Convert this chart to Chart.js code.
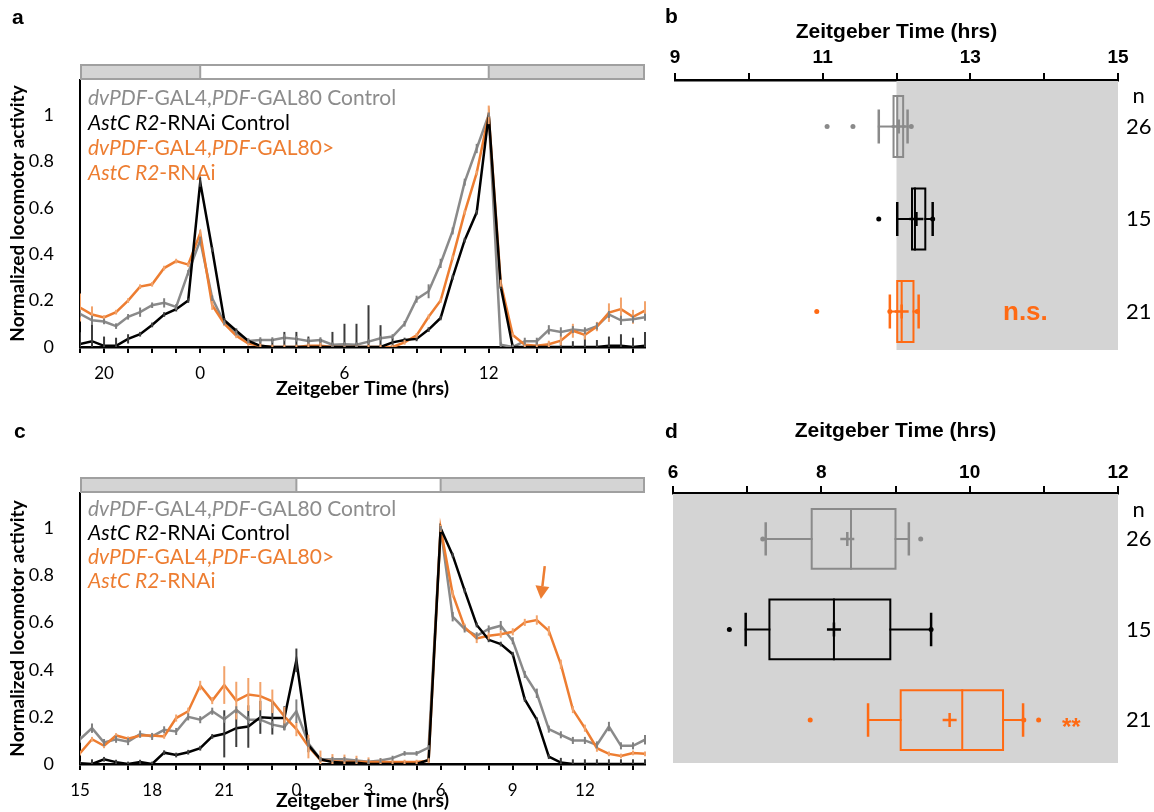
<!DOCTYPE html>
<html><head><meta charset="utf-8">
<script src="https://cdn.jsdelivr.net/npm/chart.js@4/dist/chart.umd.min.js"></script>
<style>
html,body{margin:0;padding:0;background:#fff;width:1154px;height:812px;overflow:hidden;}
canvas{position:absolute;}
.plet{position:absolute;font-family:'Liberation Sans',Arial,sans-serif;font-weight:bold;font-size:21px;color:#000;line-height:24px;}
.leg{position:absolute;left:88px;font-family:Lato,sans-serif;font-size:21px;white-space:nowrap;}
.g{color:#8c8c8c}.k{color:#000}.o{color:#ED7D31}
.sig{position:absolute;font-family:'Liberation Sans',Arial,sans-serif;font-weight:bold;color:#FF6A13;white-space:nowrap;}
</style></head><body>
<canvas id="ca" width="660" height="400" style="left:0;top:0"></canvas>
<canvas id="cb" width="494" height="380" style="left:660px;top:0"></canvas>
<canvas id="cc" width="660" height="400" style="left:0;top:412px"></canvas>
<canvas id="cd" width="494" height="380" style="left:660px;top:410px"></canvas>

<div class="plet" style="left:12px;top:5px">a</div>
<div class="plet" style="left:665px;top:4px">b</div>
<div class="plet" style="left:14px;top:419px">c</div>
<div class="plet" style="left:665px;top:419px">d</div>

<div class="leg" style="top:84px;line-height:25px">
<div class="g"><i>dvPDF</i>-GAL4,<i>PDF</i>-GAL80 Control</div>
<div class="k"><i>AstC R2</i>-RNAi Control</div>
<div class="o"><i>dvPDF</i>-GAL4,<i>PDF</i>-GAL80&gt;</div>
<div class="o"><i>AstC R2</i>-RNAi</div>
</div>
<div class="leg" style="top:496px;line-height:24px">
<div class="g"><i>dvPDF</i>-GAL4,<i>PDF</i>-GAL80 Control</div>
<div class="k"><i>AstC R2</i>-RNAi Control</div>
<div class="o"><i>dvPDF</i>-GAL4,<i>PDF</i>-GAL80&gt;</div>
<div class="o"><i>AstC R2</i>-RNAi</div>
</div>
<div class="sig" style="left:1003px;top:296px;font-size:26px">n.s.</div>
<div class="sig" style="left:1062px;top:713px;font-size:24px">**</div>

<script>
// ---------- Panel a data (ZT, 30-min bins) ----------
const aTime = [-5,-4.5,-4,-3.5,-3,-2.5,-2,-1.5,-1,-0.5,0,0.5,1,1.5,2,2.5,3,3.5,4,4.5,5,5.5,6,6.5,7,7.5,8,8.5,9,9.5,10,10.5,11,11.5,12,12.5,13,13.5,14,14.5,15,15.5,16,16.5,17,17.5,18,18.5];
const aGray = [0.143,0.115,0.11,0.09,0.13,0.15,0.18,0.19,0.173,0.32,0.46,0.21,0.105,0.06,0.026,0.03,0.03,0.04,0.035,0.026,0.03,0.01,0.012,0.01,0.023,0.038,0.045,0.1,0.206,0.24,0.36,0.5,0.71,0.855,1.0,0.01,0.0,0.025,0.025,0.074,0.065,0.075,0.07,0.09,0.14,0.115,0.12,0.128];
const aGrayErr = [0.015,0.02,0.012,0.012,0.012,0.02,0.012,0.02,0.012,0.012,0.015,0.012,0.01,0.01,0.01,0.012,0.012,0.015,0.012,0.012,0.012,0.01,0.01,0.01,0.01,0.01,0.01,0.012,0.015,0.03,0.02,0.015,0.015,0.02,0.01,0.01,0.01,0.015,0.015,0.02,0.02,0.015,0.015,0.015,0.015,0.02,0.015,0.015];
const aOrange = [0.17,0.14,0.127,0.15,0.2,0.26,0.27,0.34,0.37,0.355,0.49,0.18,0.10,0.048,0.015,0.005,0,0,0,0.005,0.005,0,0,0,0,0,0,0.02,0.05,0.13,0.2,0.385,0.58,0.75,1.0,0.275,0.052,0.01,0.005,0.012,0.027,0.07,0.052,0.088,0.148,0.163,0.13,0.157];
const aOrangeErr = [0.06,0.035,0.01,0.01,0.01,0.01,0.01,0.01,0.01,0.01,0.015,0.02,0.01,0.01,0.01,0.01,0.01,0.01,0.01,0.015,0.015,0.01,0.01,0.01,0.01,0.01,0.01,0.01,0.01,0.01,0.01,0.01,0.01,0.01,0.04,0.015,0.01,0.01,0.01,0.015,0.02,0.03,0.02,0.02,0.04,0.05,0.03,0.04];
const aBlack = [0.013,0.025,0.005,0.005,0.035,0.055,0.095,0.14,0.163,0.2,0.71,0.42,0.115,0.07,0.026,0.005,0,0,0,0,0,0,0,0,0,0,0.02,0.03,0.035,0.075,0.125,0.30,0.46,0.58,1.0,0.26,0,0,0,0,0,0,0,0,0.005,0.005,0,0.005];
const aBlackErr = [0.05,0.085,0.04,0.035,0.02,0.01,0.01,0.01,0.01,0.01,0.02,0.01,0.01,0.01,0.01,0.03,0.035,0.065,0.065,0.045,0.036,0.065,0.1,0.1,0.18,0.094,0.02,0.01,0.01,0.01,0.01,0.01,0.01,0.01,0.01,0.01,0.01,0.01,0.02,0.02,0.03,0.025,0.05,0.03,0.04,0.05,0.04,0.06];
const aTickValues = [-5,-4,-3,-2,-1,0,1,2,3,4,5,6,7,8,9,10,11,12,13,14,15,16,17,18];
const aLabelValues = [-4,0,6,12];
const aLabelTexts = ['20','0','6','12'];
const aLightDark = [{from:-5,to:0,dark:true},{from:0,to:12,dark:false},{from:12,to:18.5,dark:true}];

// ---------- Panel c data ----------
const cTime = [-9,-8.5,-8,-7.5,-7,-6.5,-6,-5.5,-5,-4.5,-4,-3.5,-3,-2.5,-2,-1.5,-1,-0.5,0,0.5,1,1.5,2,2.5,3,3.5,4,4.5,5,5.5,6,6.5,7,7.5,8,8.5,9,9.5,10,10.5,11,11.5,12,12.5,13,13.5,14,14.5];
const cGray = [0.105,0.152,0.091,0.105,0.095,0.127,0.117,0.145,0.138,0.2,0.188,0.224,0.19,0.23,0.188,0.188,0.167,0.157,0.224,0.088,0.02,0.02,0.02,0.015,0.01,0.015,0.025,0.045,0.045,0.07,1.0,0.625,0.573,0.544,0.573,0.587,0.523,0.38,0.3,0.148,0.124,0.1,0.1,0.081,0.159,0.077,0.077,0.103];
const cGrayErr = [0.015,0.02,0.015,0.015,0.015,0.015,0.015,0.015,0.015,0.015,0.015,0.015,0.015,0.015,0.015,0.015,0.015,0.015,0.05,0.015,0.01,0.01,0.01,0.01,0.01,0.01,0.01,0.01,0.01,0.01,0.01,0.02,0.015,0.015,0.015,0.02,0.015,0.015,0.02,0.015,0.015,0.015,0.015,0.015,0.02,0.015,0.015,0.02];
const cOrange = [0.046,0.105,0.077,0.121,0.107,0.121,0.121,0.117,0.195,0.224,0.333,0.269,0.335,0.269,0.295,0.288,0.266,0.202,0.148,0.074,0.017,0.012,0.01,0.01,0.008,0.008,0.008,0.008,0.008,0.014,1.0,0.722,0.58,0.533,0.544,0.551,0.561,0.601,0.611,0.565,0.423,0.231,0.152,0.067,0.043,0.034,0.047,0.043];
const cOrangeErr = [0.01,0.01,0.01,0.01,0.01,0.01,0.01,0.01,0.015,0.015,0.02,0.015,0.08,0.08,0.07,0.06,0.05,0.04,0.03,0.05,0.04,0.03,0.03,0.025,0.02,0.015,0.01,0.01,0.01,0.01,0.015,0.015,0.015,0.02,0.015,0.015,0.015,0.015,0.02,0.02,0.02,0.015,0.015,0.015,0.01,0.01,0.01,0.01];
const cBlack = [0.003,0,0.02,0.008,0,0.008,0,0.048,0.038,0.05,0.067,0.117,0.128,0.152,0.159,0.198,0.195,0.195,0.44,0.08,0.02,0.008,0.005,0.005,0,0,0,0,0,0.017,1.0,0.886,0.736,0.59,0.527,0.509,0.466,0.274,0.188,0.031,0.006,0,0,0,0,0,0,0];
const cBlackErr = [0.01,0.02,0.01,0.01,0.01,0.01,0.01,0.01,0.01,0.01,0.01,0.01,0.1,0.08,0.09,0.07,0.07,0.05,0.05,0.03,0.01,0.01,0.01,0.01,0.01,0.01,0.01,0.01,0.01,0.01,0.01,0.01,0.01,0.01,0.01,0.01,0.01,0.01,0.01,0.01,0.02,0.02,0.02,0.02,0.02,0.02,0.02,0.02];
const cTickValues = [-9,-8,-7,-6,-5,-4,-3,-2,-1,0,1,2,3,4,5,6,7,8,9,10,11,12,13,14];
const cLabelValues = [-9,-6,-3,0,3,6,9,12];
const cLabelTexts = ['15','18','21','0','3','6','9','12'];
const cLightDark = [{from:-9,to:0,dark:true},{from:0,to:6,dark:false},{from:6,to:14.5,dark:true}];
const cArrowFrom = {x:10.33, y:0.84};
const cArrowTo = {x:10.17, y:0.70};

const yTickValues = [0,0.2,0.4,0.6,0.8,1];

// ---------- Panel b data (box plots) ----------
const bGroups = ['dvPDF-GAL4,PDF-GAL80 Control','AstC R2-RNAi Control','dvPDF-GAL4,PDF-GAL80>AstC R2-RNAi'];
const bN = ['26','15','21'];
const bQ1 = [11.96,12.21,12.01];
const bMedian = [12.01,12.25,12.07];
const bQ3 = [12.09,12.39,12.23];
const bWhiskerLow = [11.76,12.01,11.91];
const bWhiskerHigh = [12.15,12.49,12.30];
const bMean = [12.03,12.27,12.07];
const bOutliers = [[11.06,11.41,12.2],[11.76,12.49],[10.92,11.91,12.28]];
const bTickValues = [9,10,11,12,13,14,15];
const bLabelValues = [9,11,13,15];
const bShade = {from:12,to:15};

// ---------- Panel d data ----------
const dN = ['26','15','21'];
const dQ1 = [7.87,7.30,9.07];
const dMedian = [8.40,8.17,9.90];
const dQ3 = [9.0,8.93,10.45];
const dWhiskerLow = [7.25,6.98,8.63];
const dWhiskerHigh = [9.18,9.48,10.72];
const dMean = [8.35,8.17,9.73];
const dOutliers = [[7.21,9.34],[6.76,9.48],[7.85,10.73,10.93]];
const dTickValues = [6,7,8,9,10,11,12];
const dLabelValues = [6,8,10,12];
const dShade = {from:6,to:12};

// ---------- plugins ----------
const errorBarPlugin = {
  id:'errorBars',
  afterDatasetsDraw(chart){
    const ctx=chart.ctx, xs=chart.scales.x, ys=chart.scales.y, a=chart.chartArea;
    ctx.save();
    ctx.beginPath(); ctx.rect(a.left, a.top-4, a.right-a.left+4, a.bottom-a.top+4); ctx.clip();
    chart.data.datasets.forEach(ds=>{
      if(!ds.errors) return;
      ctx.strokeStyle=ds.errorColor; ctx.lineWidth=2;
      ds.data.forEach((p,j)=>{
        const e=ds.errors[j]; if(!e) return;
        const x=xs.getPixelForValue(p.x);
        ctx.beginPath(); ctx.moveTo(x, ys.getPixelForValue(p.y-e)); ctx.lineTo(x, ys.getPixelForValue(p.y+e)); ctx.stroke();
      });
    });
    ctx.restore();
  }
};
const ldBarPlugin = {
  id:'ldBar',
  afterDraw(chart, args, opts){
    if(!opts.segments) return;
    const ctx=chart.ctx, xs=chart.scales.x, top=chart.chartArea.top;
    const segs=opts.segments;
    const xa=xs.getPixelForValue(segs[0].from), xb=xs.getPixelForValue(segs[segs.length-1].to);
    ctx.save();
    segs.forEach(s=>{
      const x0=xs.getPixelForValue(s.from), x1=xs.getPixelForValue(s.to);
      ctx.fillStyle = s.dark ? '#d4d4d4' : '#ffffff';
      ctx.fillRect(x0, top-15, x1-x0, 14);
    });
    ctx.strokeStyle='#a0a0a0'; ctx.lineWidth=2;
    ctx.strokeRect(xa+1, top-15, xb-xa-2, 14);
    segs.slice(1).forEach(s=>{
      const x=xs.getPixelForValue(s.from);
      ctx.beginPath(); ctx.moveTo(x, top-15); ctx.lineTo(x, top-1); ctx.stroke();
    });
    ctx.restore();
  }
};
const arrowPlugin = {
  id:'arrow',
  afterDatasetsDraw(chart, args, opts){
    if(!opts.from) return;
    const ctx=chart.ctx, xs=chart.scales.x, ys=chart.scales.y;
    const x0=xs.getPixelForValue(opts.from.x), y0=ys.getPixelForValue(opts.from.y);
    const x1=xs.getPixelForValue(opts.to.x), y1=ys.getPixelForValue(opts.to.y);
    const ang=Math.atan2(y1-y0, x1-x0), hl=13, hw=7;
    const bx=x1-hl*Math.cos(ang), by=y1-hl*Math.sin(ang);
    ctx.save();
    ctx.strokeStyle=opts.color; ctx.fillStyle=opts.color; ctx.lineWidth=2.5;
    ctx.beginPath(); ctx.moveTo(x0,y0); ctx.lineTo(bx,by); ctx.stroke();
    ctx.beginPath(); ctx.moveTo(x1,y1);
    ctx.lineTo(bx+hw*Math.sin(ang), by-hw*Math.cos(ang));
    ctx.lineTo(bx-hw*Math.sin(ang), by+hw*Math.cos(ang));
    ctx.closePath(); ctx.fill();
    ctx.restore();
  }
};
const shadePlugin = {
  id:'shade',
  beforeDatasetsDraw(chart, args, opts){
    if(opts.from===undefined) return;
    const ctx=chart.ctx, xs=chart.scales.x, a=chart.chartArea;
    const x0=xs.getPixelForValue(opts.from), x1=xs.getPixelForValue(opts.to);
    ctx.save(); ctx.fillStyle='#d4d4d4';
    ctx.fillRect(x0, a.top+1, x1-x0, a.bottom-a.top-1);
    ctx.restore();
  }
};

function zip(xs, ys){ return xs.map((x,i)=>({x:x, y:ys[i]})); }

function lineChart(id, cfg){
  return new Chart(document.getElementById(id), {
    type:'line',
    data:{datasets:[
      {label:'AstC R2-RNAi Control', data:zip(cfg.time,cfg.black), errors:cfg.blackErr, borderColor:'#000000', errorColor:'#3c3c3c', order:1},
      {label:'dvPDF-GAL4,PDF-GAL80>AstC R2-RNAi', data:zip(cfg.time,cfg.orange), errors:cfg.orangeErr, borderColor:'#ED7D31', errorColor:'#F2A36B', order:2},
      {label:'dvPDF-GAL4,PDF-GAL80 Control', data:zip(cfg.time,cfg.gray), errors:cfg.grayErr, borderColor:'#8a8a8a', errorColor:'#808080', order:3}
    ]},
    options:{
      responsive:false, animation:false, devicePixelRatio:1,
      layout:{padding:{top:cfg.top, right:15, left:0, bottom:0}},
      elements:{point:{radius:0}, line:{borderWidth:2.5, tension:0, fill:false}},
      plugins:{legend:{display:false}, tooltip:{enabled:false}, ldBar:{segments:cfg.ld}, arrow:cfg.arrow||{}},
      scales:{
        x:{type:'linear', min:cfg.time[0], max:cfg.time[cfg.time.length-1],
          afterBuildTicks:s=>{s.ticks=cfg.tickValues.map(v=>({value:v}));},
          afterFit:s=>{s.height=cfg.xh;},
          ticks:{autoSkip:false, maxRotation:0, padding:cfg.tickPad, color:'#000', font:{family:'Lato', size:17},
            callback:v=>{const i=cfg.labelValues.indexOf(v); return i<0?'':cfg.labelTexts[i];}},
          grid:{drawOnChartArea:false, drawTicks:true, tickLength:6, color:'#000', lineWidth:2},
          border:{display:true, color:'#000', width:2.5},
          title:{display:true, text:'Zeitgeber Time (hrs)', color:'#000', font:{family:'Lato', size:19.5, weight:'bold'}, padding:{top:0, bottom:0}}},
        y:{type:'linear', min:0, max:1.15,
          afterBuildTicks:s=>{s.ticks=yTickValues.map(v=>({value:v}));},
          afterFit:s=>{s.width=80;},
          ticks:{padding:18, color:'#000', font:{family:'Lato', size:18}, callback:v=>String(+v.toFixed(1))},
          grid:{display:false},
          border:{display:true, color:'#000', width:2},
          title:{display:true, text:'Normalized locomotor activity', color:'#000', font:{family:'Lato', size:19, weight:'bold'}, padding:{top:6, bottom:0}}}
      }
    },
    plugins:[errorBarPlugin, ldBarPlugin, arrowPlugin]
  });
}

function boxDatasets(q1, med, q3, wl, wh, mean, outl, colors){
  const ds=[];
  for(let i=0;i<q1.length;i++){
    const r=i+1, c=colors[i], h=0.33, cap=0.17;
    const seg=(pts,w)=>ds.push({data:pts, showLine:true, borderColor:c, borderWidth:w, pointRadius:0, fill:false, borderJoinStyle:'miter', borderCapStyle:'square'});
    seg([{x:wl[i],y:r},{x:q1[i],y:r}],2);
    seg([{x:q3[i],y:r},{x:wh[i],y:r}],2);
    seg([{x:wl[i],y:r-cap},{x:wl[i],y:r+cap}],2.5);
    seg([{x:wh[i],y:r-cap},{x:wh[i],y:r+cap}],2.5);
    seg([{x:q1[i],y:r-h},{x:q3[i],y:r-h},{x:q3[i],y:r+h},{x:q1[i],y:r+h},{x:q1[i],y:r-h}],2);
    seg([{x:med[i],y:r-h},{x:med[i],y:r+h}],2);
    ds.push({data:[{x:mean[i],y:r}], showLine:false, pointStyle:'cross', pointRadius:7, pointBorderWidth:2.5, borderColor:c, backgroundColor:c});
    ds.push({data:outl[i].map(v=>({x:v,y:r})), showLine:false, pointStyle:'circle', pointRadius:2.5, pointBorderWidth:0, borderColor:c, backgroundColor:c});
  }
  return ds;
}

function boxChart(id, cfg){
  return new Chart(document.getElementById(id), {
    type:'scatter',
    data:{datasets:boxDatasets(cfg.q1,cfg.med,cfg.q3,cfg.wl,cfg.wh,cfg.mean,cfg.outl,['#8a8a8a','#000000','#FF6A13'])},
    options:{
      responsive:false, animation:false, devicePixelRatio:1,
      layout:{padding:{left:cfg.left, right:0, top:0, bottom:cfg.bottom}},
      plugins:{legend:{display:false}, tooltip:{enabled:false}, shade:cfg.shade},
      scales:{
        x:{type:'linear', position:'top', min:cfg.tickValues[0], max:cfg.tickValues[cfg.tickValues.length-1],
          afterBuildTicks:s=>{s.ticks=cfg.tickValues.map(v=>({value:v}));},
          afterFit:s=>{s.height=cfg.axisH;},
          ticks:{autoSkip:false, maxRotation:0, padding:cfg.tickPad, color:'#000', font:{family:'Liberation Sans', size:19, weight:'bold'},
            callback:v=>cfg.labelValues.includes(v)?String(v):''},
          grid:{drawOnChartArea:false, drawTicks:true, tickLength:7, color:'#000', lineWidth:2},
          border:{display:true, color:'#000', width:2.5},
          title:{display:true, text:'Zeitgeber Time (hrs)', color:'#000', font:{family:'Liberation Sans', size:21, weight:'bold'}, padding:{top:cfg.titlePad, bottom:0}}},
        y:{type:'linear', position:'right', reverse:true, min:cfg.ymin, max:cfg.ymax,
          afterBuildTicks:s=>{s.ticks=[cfg.nPos,1,2,3].map(v=>({value:v}));},
          afterFit:s=>{s.width=36;},
          ticks:{autoSkip:false, padding:0, crossAlign:'center', color:'#000', font:{family:'Lato', size:22},
            callback:v=>v===cfg.nPos?'n':cfg.n[v-1]},
          grid:{display:false}, border:{display:false}}
      }
    },
    plugins:[shadePlugin]
  });
}

lineChart('ca', {time:aTime, gray:aGray, grayErr:aGrayErr, orange:aOrange, orangeErr:aOrangeErr, black:aBlack, blackErr:aBlackErr,
  tickValues:aTickValues, labelValues:aLabelValues, labelTexts:aLabelTexts, ld:aLightDark, top:80, xh:53, tickPad:10});
lineChart('cc', {time:cTime, gray:cGray, grayErr:cGrayErr, orange:cOrange, orangeErr:cOrangeErr, black:cBlack, blackErr:cBlackErr,
  tickValues:cTickValues, labelValues:cLabelValues, labelTexts:cLabelTexts, ld:cLightDark, top:81, xh:48, tickPad:10,
  arrow:{from:cArrowFrom, to:cArrowTo, color:'#ED7D31'}});
boxChart('cb', {q1:bQ1, med:bMedian, q3:bQ3, wl:bWhiskerLow, wh:bWhiskerHigh, mean:bMean, outl:bOutliers, n:bN,
  tickValues:bTickValues, labelValues:bLabelValues, shade:bShade, left:15, bottom:30, axisH:80, tickPad:4, titlePad:20,
  ymin:0.497, ymax:3.416, nPos:0.67});
boxChart('cd', {q1:dQ1, med:dMedian, q3:dQ3, wl:dWhiskerLow, wh:dWhiskerHigh, mean:dMean, outl:dOutliers, n:dN,
  tickValues:dTickValues, labelValues:dLabelValues, shade:dShade, left:13, bottom:27, axisH:83, tickPad:2, titlePad:9,
  ymin:0.492, ymax:3.475, nPos:0.68});
</script>
</body></html>
